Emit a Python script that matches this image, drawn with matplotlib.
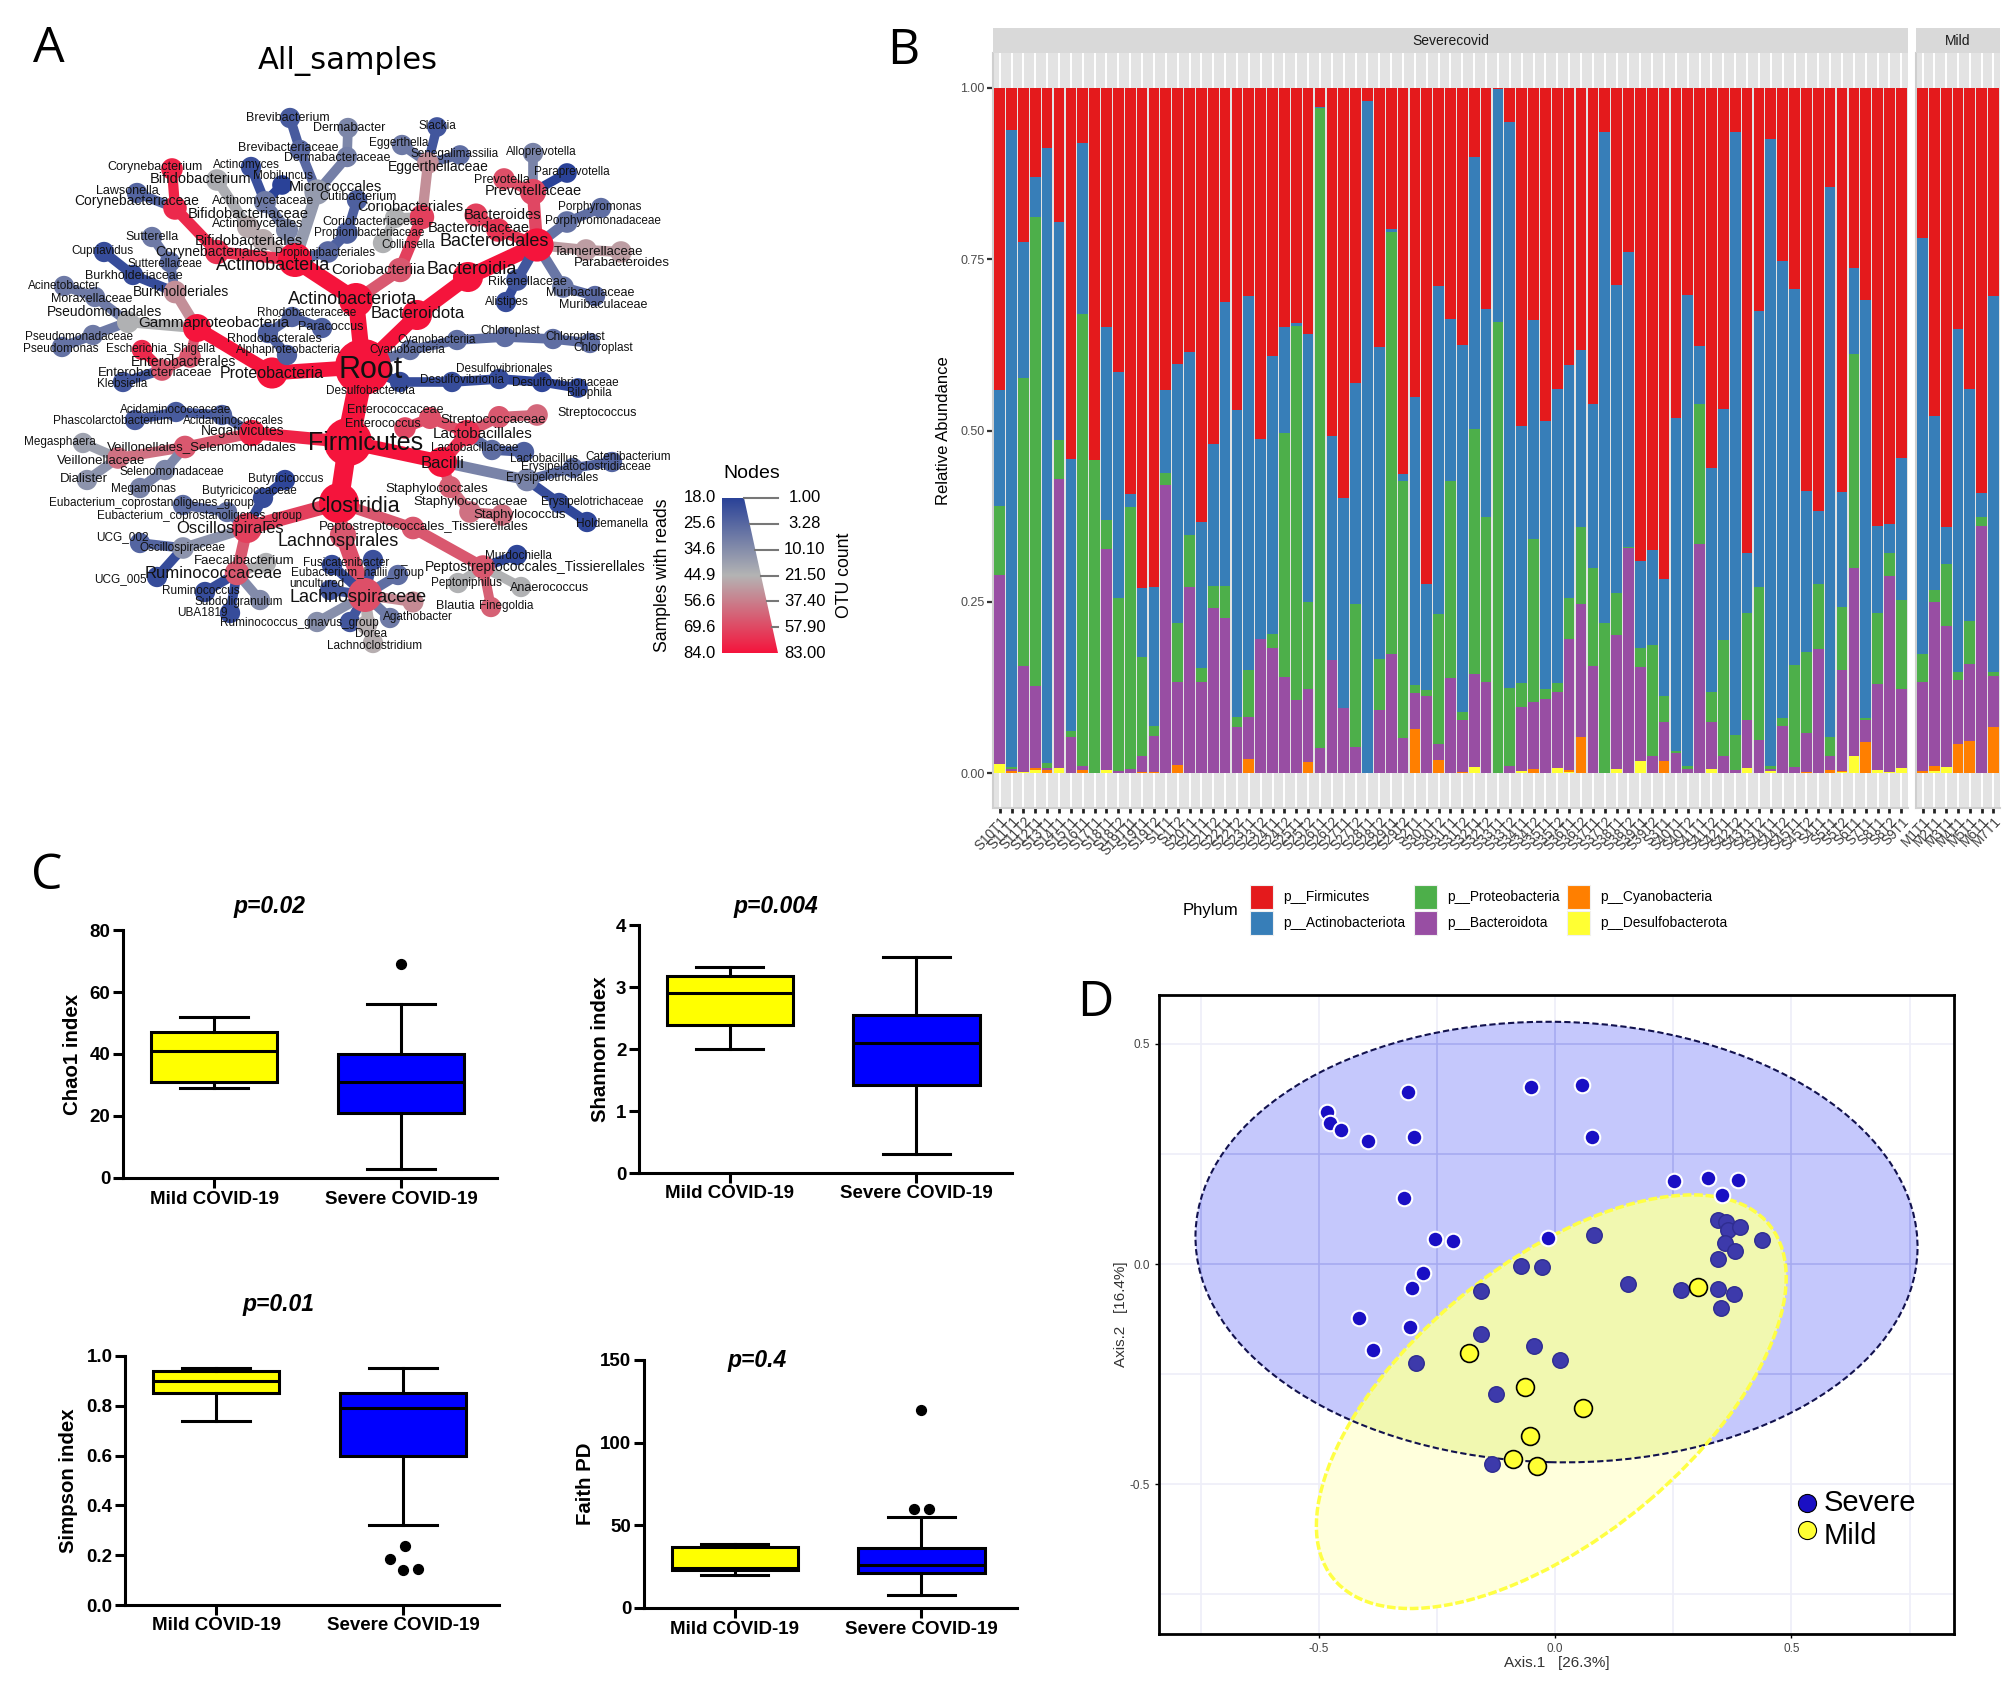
#!/usr/bin/env python3
## Imports
import numpy as np
import matplotlib
matplotlib.use('Agg')
import matplotlib.pyplot as plt
from matplotlib.colors import LinearSegmentedColormap
from matplotlib.collections import LineCollection
from matplotlib.patches import Circle, Rectangle, Polygon, Ellipse

plt.rcParams['font.family'] = ['Liberation Sans', 'DejaVu Sans']

W, H = 2008, 1703

## Panel A data: taxonomic tree, positions are the layout
tree_names = [
    'Root', 'Actinobacteriota', 'Actinobacteria', 'Coriobacteriia', 'Bifidobacteriales',
    'Bifidobacteriaceae', 'Bifidobacterium', 'Corynebacteriales', 'Corynebacteriaceae', 'Corynebacterium',
    'Lawsonella', 'Micrococcales', 'Brevibacteriaceae', 'Brevibacterium', 'Dermabacteraceae',
    'Dermabacter', 'Propionibacteriales', 'Propionibacteriaceae', 'Cutibacterium', 'Actinomycetales',
    'Actinomycetaceae', 'Actinomyces', 'Mobiluncus', 'Coriobacteriales', 'Coriobacteriaceae',
    'Collinsella', 'Eggerthellaceae', 'Eggerthella', 'Slackia', 'Senegalimassilia',
    'Bacteroidota', 'Bacteroidia', 'Bacteroidales', 'Bacteroidaceae', 'Bacteroides',
    'Prevotellaceae', 'Prevotella', 'Alloprevotella', 'Paraprevotella', 'Porphyromonadaceae',
    'Porphyromonas', 'Tannerellaceae', 'Parabacteroides', 'Rikenellaceae', 'Alistipes',
    'Muribaculaceae', 'Muribaculaceae', 'Cyanobacteria', 'Cyanobacteriia', 'Chloroplast',
    'Chloroplast', 'Chloroplast', 'Desulfobacterota', 'Desulfovibrionia', 'Desulfovibrionales',
    'Desulfovibrionaceae', 'Bilophila', 'Proteobacteria', 'Gammaproteobacteria', 'Alphaproteobacteria',
    'Rhodobacterales', 'Rhodobacteraceae', 'Paracoccus', 'Burkholderiales', 'Sutterellaceae',
    'Sutterella', 'Burkholderiaceae', 'Cupriavidus', 'Pseudomonadales', 'Moraxellaceae',
    'Acinetobacter', 'Pseudomonadaceae', 'Pseudomonas', 'Enterobacterales', 'Enterobacteriaceae',
    'Escherichia_Shigella', 'Klebsiella', 'Firmicutes', 'Negativicutes', 'Acidaminococcales',
    'Acidaminococcaceae', 'Phascolarctobacterium', 'Veillonellales_Selenomonadales', 'Veillonellaceae', 'Megasphaera',
    'Dialister', 'Selenomonadaceae', 'Megamonas', 'Clostridia', 'Oscillospirales',
    'Butyricicoccaceae', 'Butyricicoccus', 'Eubacterium_coprostanoligenes_group', 'Eubacterium_coprostanoligenes_group', 'Oscillospiraceae',
    'UCG_002', 'UCG_005', 'Ruminococcaceae', 'Faecalibacterium', 'Ruminococcus',
    'Subdoligranulum', 'UBA1819', 'Lachnospirales', 'Lachnospiraceae', 'Fusicatenibacter',
    'Eubacterium_hallii_group', '_', 'uncultured', 'Ruminococcus_gnavus_group', '',
    'Dorea', 'Lachnoclostridium', 'Agathobacter', 'Blautia', 'Peptostreptococcales_Tissierellales',
    'Peptostreptococcales_Tissierellales', 'Murdochiella', 'Peptoniphilus', 'Anaerococcus', 'Finegoldia',
    'Bacilli', 'Lactobacillales', 'Enterococcaceae', 'Enterococcus', 'Streptococcaceae',
    'Streptococcus', 'Lactobacillaceae', 'Lactobacillus', 'Erysipelotrichales', 'Erysipelatoclostridiaceae',
    'Catenibacterium', 'Erysipelotrichaceae', 'Holdemanella', 'Staphylococcales', 'Staphylococcaceae',
    'Staphylococcus']
tree_parent = [
    -1, 0, 1, 1, 2, 4, 5, 2, 7, 8,
    8, 2, 11, 12, 11, 14, 2, 16, 17, 2,
    19, 20, 20, 3, 23, 24, 23, 26, 26, 26,
    0, 30, 31, 32, 33, 32, 35, 35, 35, 32,
    39, 32, 41, 32, 43, 32, 45, 0, 47, 48,
    49, 50, 0, 52, 53, 54, 55, 0, 57, 57,
    59, 60, 61, 58, 63, 64, 63, 66, 58, 68,
    69, 68, 71, 58, 73, 74, 74, 0, 77, 78,
    79, 80, 78, 82, 83, 83, 82, 86, 77, 88,
    89, 90, 89, 92, 89, 94, 94, 89, 97, 97,
    97, 97, 88, 102, 103, 103, 103, 103, 103, 103,
    103, 103, 103, 103, 88, 114, 115, 115, 115, 115,
    77, 120, 121, 122, 121, 124, 121, 126, 120, 128,
    129, 128, 131, 120, 133, 134]
tree_x = [
    363, 356, 295, 400, 263, 248, 217, 217, 175, 172,
    137, 317, 300, 290, 347, 348, 328, 347, 357, 287,
    265, 251, 282, 422, 395, 383, 428, 402, 437, 460,
    417, 468, 537, 498, 476, 533, 504, 533, 567, 567,
    601, 586, 621, 517, 506, 563, 595, 410, 457, 505,
    553, 590, 400, 452, 499, 542, 578, 272, 197, 287,
    268, 292, 322, 175, 170, 152, 133, 104, 128, 95,
    64, 93, 62, 190, 162, 142, 123, 348, 252, 222,
    176, 135, 185, 118, 83, 87, 165, 140, 339, 247,
    263, 285, 227, 183, 183, 140, 157, 237, 266, 205,
    260, 230, 343, 365, 332, 373, 398, 330, 350, 317,
    367, 373, 390, 413, 413, 483, 517, 458, 521, 491,
    442, 467, 430, 405, 499, 537, 492, 524, 527, 573,
    612, 559, 587, 450, 470, 502]
tree_y = [
    367, 300, 260, 270, 240, 227, 180, 252, 208, 169,
    193, 192, 150, 118, 157, 128, 252, 233, 200, 230,
    202, 167, 185, 217, 218, 243, 163, 145, 127, 155,
    315, 277, 245, 230, 215, 192, 179, 153, 173, 222,
    208, 250, 252, 280, 302, 287, 296, 350, 340, 337,
    339, 343, 382, 382, 379, 382, 388, 373, 328, 355,
    333, 317, 328, 292, 262, 237, 275, 252, 322, 297,
    286, 335, 347, 357, 370, 350, 382, 442, 433, 415,
    412, 420, 447, 458, 443, 480, 470, 488, 503, 528,
    498, 480, 512, 505, 548, 543, 577, 573, 563, 592,
    600, 613, 535, 595, 565, 560, 575, 590, 622, 622,
    625, 643, 618, 602, 528, 567, 555, 583, 587, 607,
    462, 433, 418, 428, 417, 415, 450, 452, 480, 468,
    462, 503, 522, 487, 512, 515]
tree_samples = [
    84, 84, 84, 66, 47, 47, 43, 76, 78, 80,
    25, 38, 26, 23, 31, 33, 26, 24, 24, 33,
    30, 21, 18, 72, 44, 44, 53, 30, 22, 27,
    84, 84, 84, 75, 72, 70, 68, 32, 18, 28,
    27, 50, 50, 22, 20, 29, 26, 28, 27, 27,
    27, 27, 20, 20, 20, 19, 19, 84, 84, 24,
    24, 25, 24, 53, 27, 30, 20, 20, 44, 30,
    30, 30, 28, 66, 66, 78, 22, 84, 80, 24,
    23, 23, 66, 60, 40, 36, 33, 32, 84, 72,
    20, 19, 28, 27, 36, 25, 20, 66, 44, 20,
    34, 20, 66, 68, 20, 21, 27, 22, 22, 35,
    46, 46, 30, 54, 66, 66, 19, 44, 44, 64,
    84, 76, 68, 70, 66, 62, 27, 24, 32, 27,
    25, 20, 19, 64, 60, 60]
tree_otu = [
    83, 21.5, 21.5, 6, 3.3, 3.3, 3, 6, 5, 3,
    2, 7, 2, 2, 2, 2, 3, 3, 2, 3.3,
    3.3, 2, 1.5, 6, 2, 2, 3, 2, 1.5, 1.5,
    14, 14, 20, 5, 4.5, 8, 3, 2, 1.5, 3,
    2, 3, 3, 3, 2, 3, 2, 2, 2, 2,
    2, 2, 2, 2, 2, 2, 1.5, 16, 10, 2,
    2, 2, 2, 4, 2, 2, 2, 2, 3.3, 2,
    2, 2, 2, 3, 3, 2, 2, 57.9, 8, 2,
    2, 2, 4, 3, 2, 2, 2, 2, 37.4, 14,
    2, 2, 2, 2, 3, 2, 2, 6, 2, 2,
    2, 2, 8, 21.5, 2, 2, 2, 2, 2, 2,
    2, 2, 2, 2.5, 4, 5, 2, 2, 2, 2,
    14, 8, 3.3, 3, 3.3, 3, 2, 2, 4, 2,
    2, 2, 2, 3.3, 3, 3]
label_x = [
    371, 353, 273, 378, 249, 248, 201, 211, 137, 155,
    127, 335, 288, 288, 337, 349, 325, 369, 358, 258,
    263, 246, 283, 410, 373, 408, 438, 399, 437, 455,
    418, 472, 494, 479, 503, 533, 502, 541, 572, 603,
    600, 599, 622, 527, 507, 590, 603, 407, 437, 510,
    575, 603, 370, 462, 504, 565, 589, 272, 214, 289,
    274, 307, 331, 181, 165, 152, 134, 102, 105, 92,
    64, 79, 61, 184, 155, 161, 122, 366, 243, 233,
    176, 113, 202, 101, 60, 84, 172, 143, 356, 230,
    249, 286, 199, 151, 183, 122, 120, 214, 244, 201,
    239, 202, 338, 358, 346, 357, 403, 317, 299, 317,
    371, 375, 418, 455, 424, 535, 518, 466, 550, 506,
    443, 483, 395, 383, 493, 597, 475, 544, 552, 586,
    628, 592, 612, 437, 471, 520]
label_y = [
    370, 300, 266, 270, 241, 214, 179, 252, 201, 167,
    191, 187, 148, 118, 158, 128, 253, 233, 197, 224,
    201, 165, 176, 207, 222, 245, 167, 143, 126, 154,
    314, 269, 242, 228, 215, 191, 180, 152, 172, 221,
    207, 252, 263, 282, 302, 293, 305, 350, 340, 331,
    337, 348, 391, 380, 369, 383, 393, 373, 323, 350,
    339, 313, 327, 292, 264, 237, 276, 251, 312, 299,
    286, 337, 349, 362, 373, 349, 384, 443, 431, 421,
    410, 421, 447, 461, 442, 479, 472, 489, 507, 528,
    491, 479, 516, 503, 548, 537, 579, 573, 561, 591,
    602, 613, 542, 597, 563, 573, 560, 584, 623, 622,
    634, 646, 617, 606, 527, 567, 556, 583, 588, 606,
    463, 434, 410, 424, 420, 413, 448, 459, 478, 467,
    457, 502, 524, 489, 502, 515]
label_size = [
    22, 13, 13, 11, 10.5, 10.5, 10.5, 10, 10, 9,
    9, 10.5, 9, 9, 9, 9, 8.5, 8.5, 9, 9,
    9, 8.5, 8.5, 10.5, 9, 8.5, 10, 8.5, 8.5, 8.5,
    12, 13, 13, 10.5, 10.5, 10.5, 9, 8.5, 8.5, 8.5,
    8.5, 9.5, 9.5, 9, 8.5, 9, 9, 8.5, 8.5, 8.5,
    8.5, 8.5, 8.5, 8.5, 8.5, 8.5, 8.5, 11.5, 11, 8.5,
    9, 8.5, 9, 10, 8.5, 9, 9, 8.5, 10, 9,
    8.5, 8.5, 8.5, 10, 9.5, 8.5, 8.5, 18, 10, 8.5,
    8.5, 8.5, 9.5, 9.5, 8.5, 9.5, 8.5, 8.5, 15.5, 12,
    8.5, 8.5, 8.5, 8.5, 8.5, 8.5, 8.5, 12, 9.5, 8.5,
    8.5, 8.5, 13, 13, 8.5, 8.5, 8.5, 8.5, 8.5, 8.5,
    8.5, 8.5, 8.5, 9, 9.5, 10, 8.5, 8.5, 9, 8.5,
    12, 11, 9, 9, 9.5, 9, 8.5, 8.5, 8.5, 8.5,
    8.5, 8.5, 8.5, 9.5, 9.5, 9.5]

legend_samples = [18.0, 25.6, 34.6, 44.9, 56.6, 69.6, 84.0]
legend_otu = [1.00, 3.28, 10.10, 21.50, 37.40, 57.90, 83.00]

## Panel B data: cumulative lower edge of each stacked segment
sample_labels = [
    'S10T1', 'S11T1', 'S11T2', 'S12T1', 'S13T1', 'S14T1', 'S15T1', 'S16T1', 'S17T1', 'S18T1',
    'S18T2', 'S19T11', 'S19T1', 'S19T2', 'S1T1', 'S1T2', 'S20T1', 'S21T1', 'S21T2', 'S22T1',
    'S22T2', 'S23T1', 'S23T2', 'S24T1', 'S24T2', 'S25T1', 'S25T2', 'S26T1', 'S26T2', 'S27T1',
    'S27T2', 'S28T1', 'S28T2', 'S29T1', 'S29T2', 'S2T1', 'S30T1', 'S30T2', 'S31T1', 'S31T2',
    'S32T1', 'S32T2', 'S33T1', 'S33T2', 'S34T1', 'S34T2', 'S35T1', 'S35T2', 'S36T1', 'S36T2',
    'S37T1', 'S37T2', 'S38T1', 'S38T2', 'S39T1', 'S39T2', 'S3T1', 'S40T1', 'S40T2', 'S41T1',
    'S41T2', 'S42T1', 'S42T2', 'S43T1', 'S43T2', 'S44T1', 'S44T2', 'S45T1', 'S45T2', 'S4T1',
    'S5T1', 'S5T2', 'S6T1', 'S7T1', 'S8T1', 'S8T2', 'S9T1']
mild_labels = ['M1T1', 'M2T1', 'M3T1', 'M4T1', 'M5T1', 'M6T1', 'M7T1']

firmicutes_low = [
    .559, .939, .775, .870, .912, .804, .458, .920, .457, .651,
    .585, .407, .270, .271, .559, .597, .615, .366, .480, .688,
    .530, .696, .488, .609, .651, .657, .641, .972, .492, .401,
    .569, .981, .622, .794, .436, .549, .276, .711, .663, .625,
    .899, .677, .999, .951, .506, .662, .514, .560, .595, .617,
    .539, .936, .713, .760, .310, .326, .283, .518, .698, .623,
    .445, .532, .936, .321, .674, .925, .748, .706, .411, .382,
    .856, .410, .737, .690, .360, .364, .460]
actino_low = [
    .390, .009, .577, .812, .015, .486, .061, .670, .457, .369,
    .255, .388, .169, .069, .438, .219, .347, .153, .273, .273,
    .082, .150, .196, .203, .496, .652, .250, .970, .165, .095,
    .247, .000, .166, .790, .426, .128, .121, .232, .426, .089,
    .502, .374, .658, .124, .131, .341, .123, .132, .255, .359,
    .299, .219, .263, .330, .183, .187, .112, .032, .010, .539,
    .118, .194, .056, .234, .271, .010, .080, .157, .176, .276,
    .052, .242, .611, .081, .234, .321, .253]
proteo_low = [
    .289, .006, .156, .127, .008, .429, .052, .010, .000, .327,
    .003, .006, .025, .054, .420, .133, .272, .133, .241, .226,
    .067, .082, .196, .182, .140, .107, .123, .036, .165, .095,
    .038, .000, .092, .174, .051, .117, .112, .042, .139, .078,
    .145, .133, .000, .010, .096, .103, .108, .118, .195, .247,
    .156, .000, .202, .328, .155, .025, .074, .029, .006, .335,
    .075, .025, .004, .077, .048, .006, .069, .009, .058, .181,
    .025, .151, .300, .078, .130, .288, .123]
bactero_low = [
    .013, .003, .002, .008, .005, .007, .000, .005, .000, .004,
    .000, .000, .002, .002, .000, .012, .000, .000, .000, .000,
    .000, .020, .000, .000, .000, .000, .016, .000, .000, .000,
    .000, .000, .000, .000, .000, .064, .000, .019, .000, .002,
    .009, .000, .000, .000, .003, .006, .000, .007, .005, .053,
    .000, .000, .006, .000, .017, .000, .018, .000, .000, .000,
    .006, .000, .000, .007, .000, .003, .000, .000, .001, .000,
    .005, .003, .025, .046, .005, .002, .008]
cyano_low = [
    .013, .000, .001, .005, .000, .007, .000, .000, .000, .004,
    .000, .000, .000, .000, .000, .000, .000, .000, .000, .000,
    .000, .000, .000, .000, .000, .000, .000, .000, .000, .000,
    .000, .000, .000, .000, .000, .000, .000, .000, .000, .000,
    .009, .000, .000, .000, .003, .000, .000, .007, .002, .000,
    .000, .000, .006, .000, .017, .000, .000, .000, .000, .000,
    .006, .000, .000, .007, .000, .003, .000, .000, .000, .000,
    .000, .001, .025, .000, .005, .002, .008]

mild_firmicutes_low = [.781, .521, .359, .648, .560, .409, .696]
mild_actino_low = [.174, .267, .305, .147, .222, .374, .148]
mild_proteo_low = [.133, .250, .214, .136, .159, .361, .141]
mild_bactero_low = [.003, .011, .009, .042, .047, .000, .067]
mild_cyano_low = [.000, .003, .009, .000, .000, .000, .000]

phylum_names = ['p__Firmicutes', 'p__Actinobacteriota', 'p__Proteobacteria',
                'p__Bacteroidota', 'p__Cyanobacteria', 'p__Desulfobacterota']
phylum_colors = ['#e41a1c', '#377eb8', '#4daf4a', '#984ea3', '#ff7f00', '#ffff33']

## Panel C data: (low whisker, q1, median, q3, high whisker)
chao_mild = [29, 31, 41, 47, 52]
chao_severe = [3, 21, 31, 40, 56]
chao_fliers = [69]
chao_shift = [0.0]
shannon_mild = [2.0, 2.38, 2.9, 3.17, 3.33]
shannon_severe = [0.3, 1.42, 2.1, 2.55, 3.48]
simpson_mild = [0.74, 0.85, 0.90, 0.94, 0.95]
simpson_severe = [0.32, 0.60, 0.79, 0.85, 0.95]
simpson_fliers = [0.237, 0.186, 0.139, 0.144]
simpson_shift = [0.01, -0.07, 0.0, 0.08]
faith_mild = [20, 23, 24, 37, 39]
faith_severe = [8, 21, 26, 36, 55]
faith_fliers = [120, 60, 60]
faith_shift = [0.0, -0.04, 0.04]

## Panel D data
severe_x = [-.312, -.050, .058, -.482, -.476, -.452, -.396, -.299, .079, .251, .324,
            .386, .353, -.320, -.254, -.217, -.014, -.280, -.303, -.415, -.307, -.386]
severe_y = [.391, .402, .406, .346, .321, .305, .280, .288, .288, .189, .195,
            .191, .156, .149, .057, .052, .060, -.021, -.054, -.123, -.143, -.195]
overlap_x = [.083, .345, .361, .366, .392, .438, .359, .381, .345, -.073, -.028, -.156,
             .155, .266, .344, .379, .350, -.157, -.045, .011, -.294, -.124, -.134]
overlap_y = [.067, .101, .096, .078, .084, .054, .048, .029, .011, -.004, -.007, -.061,
             -.046, -.060, -.056, -.068, -.099, -.159, -.187, -.217, -.225, -.294, -.455]
mild_x = [.303, -.183, -.063, .060, -.053, -.089, -.038]
mild_y = [-.051, -.203, -.280, -.326, -.391, -.443, -.459]


## Functions
def px_axes(fig, left, top, right, bottom):
    return fig.add_axes([left / W, 1 - bottom / H, (right - left) / W, (bottom - top) / H])


def draw_tree(ov):
    cmap = LinearSegmentedColormap.from_list('nodes', ['#2a4298', '#b4b4b4', '#f5143c'])
    pos = np.interp(tree_samples, legend_samples, np.linspace(0, 1, 7))
    radius = np.interp(tree_otu, legend_otu, [9.5, 11, 14, 17, 20, 24, 28])
    segs, cols, lws = [], [], []
    for i, p in enumerate(tree_parent):
        if p >= 0:
            segs.append([(tree_x[p], tree_y[p]), (tree_x[i], tree_y[i])])
            cols.append(cmap(pos[i]))
            lws.append(radius[i] * 0.95 / 1.389)
    ov.add_collection(LineCollection(segs, colors=cols, linewidths=lws, capstyle='round', zorder=2))
    for i in range(len(tree_x)):
        ov.add_patch(Circle((tree_x[i], tree_y[i]), radius[i], fc=cmap(pos[i]), ec='none', zorder=3))
    for i, name in enumerate(tree_names):
        ov.text(label_x[i], label_y[i], name, fontsize=label_size[i], ha='center', va='center',
                color='#111111', zorder=4)

    # Nodes legend
    grad = np.linspace(0, 1, 256).reshape(-1, 1)
    im = ov.imshow(grad, cmap=cmap, extent=(722, 778, 653, 498), aspect='auto', zorder=2)
    im.set_clip_path(Polygon([(722, 498), (744, 498), (778, 653), (722, 653)], transform=ov.transData))
    ov.set_xlim(0, W)
    ov.set_ylim(H, 0)
    ys = np.linspace(498, 653, 7)
    for k in range(7):
        edge = 744 + (778 - 744) * k / 6
        ov.plot([edge, 778], [ys[k], ys[k]], color='#777777', lw=1.5, zorder=3)
        ov.text(716, ys[k], '%.1f' % legend_samples[k], ha='right', va='center', fontsize=12)
        ov.text(805, ys[k], '%.2f' % legend_otu[k], ha='center', va='center', fontsize=12)
    ov.text(752, 473, 'Nodes', ha='center', va='center', fontsize=14)
    ov.text(663, 575, 'Samples with reads', rotation=90, ha='center', va='center', fontsize=12.7)
    ov.text(845, 575, 'OTU count', rotation=90, ha='center', va='center', fontsize=12.7)
    ov.text(348, 61, 'All_samples', ha='center', va='center', fontsize=22, family='DejaVu Sans')


def stacked(ax, labels, lows):
    x = np.arange(len(labels))
    edges = [np.zeros(len(labels))] + [np.array(v) for v in lows[::-1]] + [np.ones(len(labels))]
    for j in range(6):
        ax.bar(x, edges[j + 1] - edges[j], bottom=edges[j], width=0.9,
               color=phylum_colors[5 - j], linewidth=0, zorder=3)
    ax.set_xlim(-0.565, len(labels) - 0.435)
    ax.set_ylim(-0.051, 1.051)
    ax.set_facecolor('#e3e3e3')
    ax.set_axisbelow(True)
    ax.grid(axis='x', color='white', lw=1.4)
    for s in ('top', 'right'):
        ax.spines[s].set_visible(False)
    for s in ('left', 'bottom'):
        ax.spines[s].set_color('#cfcfcf')
        ax.spines[s].set_linewidth(1.5)
    ax.set_xticks(x)
    ax.set_xticklabels(labels)
    ax.tick_params(axis='x', length=3.5, width=2.0, color='#222222', labelcolor='#404040', labelsize=9.8, pad=1)
    for lab in ax.get_xticklabels():
        lab.set(rotation=47, ha='right', va='top', rotation_mode='anchor')


def boxes(fig, rect, mild, severe, ylim, yticks, ylabel, label_px, fliers, shift):
    ax = px_axes(fig, *rect)
    stats = []
    for lbl, v in (('Mild COVID-19', mild), ('Severe COVID-19', severe)):
        stats.append({'label': lbl, 'whislo': v[0], 'q1': v[1], 'med': v[2], 'q3': v[3], 'whishi': v[4], 'fliers': []})
    bp = ax.bxp(stats, positions=[1, 2], widths=0.678, patch_artist=True, showfliers=False, capwidths=0.36,
                boxprops=dict(lw=2.2, edgecolor='black'), whiskerprops=dict(lw=2.2, color='black'),
                capprops=dict(lw=2.2, color='black'), medianprops=dict(lw=2.2, color='black'))
    bp['boxes'][0].set_facecolor('#ffff00')
    bp['boxes'][1].set_facecolor('#0000ff')
    if fliers:
        ax.scatter(2 + np.array(shift), fliers, s=50, color='black', zorder=5, clip_on=False)
    ax.set_xlim(0.513, 2.513)
    ax.set_ylim(*ylim)
    ax.set_yticks(yticks)
    for s in ('top', 'right'):
        ax.spines[s].set_visible(False)
    for s in ('left', 'bottom'):
        ax.spines[s].set_linewidth(2.2)
    ax.tick_params(length=7, width=2.2, labelsize=13.5, pad=2)
    for lab in ax.get_xticklabels() + ax.get_yticklabels():
        lab.set_fontweight('bold')
    ax.set_ylabel(ylabel, fontsize=14.7, fontweight='bold', va='center')
    ax.yaxis.set_label_coords((label_px - rect[0]) / (rect[2] - rect[0]), 0.5)
    ax.patch.set_alpha(0)
    return ax


def ordination(fig):
    ax = px_axes(fig, 1159, 995, 1954, 1634)
    ax.set_xlim(-0.838, 0.844)
    ax.set_ylim(-0.84, 0.611)
    steps_x = [-.75, -.5, -.25, 0, .25, .5, .75]
    steps_y = [-.75, -.5, -.25, 0, .25, .5]
    for v in steps_x:
        ax.axvline(v, color='#eeeef8', lw=1.2, zorder=1)
    for v in steps_y:
        ax.axhline(v, color='#eeeef8', lw=1.2, zorder=1)
    blue = Ellipse((0.003, 0.05), 1.528, 1.0, angle=-1.5, fc='#c5c8fc', ec='none', zorder=2)
    ax.add_patch(blue)
    for v in steps_x:
        ax.axvline(v, color='#a6aaf0', lw=1.2, zorder=2.5).set_clip_path(blue)
    for v in steps_y:
        ax.axhline(v, color='#a6aaf0', lw=1.2, zorder=2.5).set_clip_path(blue)
    ax.add_patch(Ellipse((-0.008, -0.3125), 1.224, 0.61, angle=42.3, fc='#ffffdc', ec='none', zorder=3))
    inner = Ellipse((-0.008, -0.3125), 1.224, 0.61, angle=42.3, fc='#f1f8b0', ec='none', zorder=3.2)
    ax.add_patch(inner)
    inner.set_clip_path(blue)
    ax.add_patch(Ellipse((0.003, 0.05), 1.528, 1.0, angle=-1.5, fc='none', ec='#12124e',
                         ls=(0, (3, 1.5)), lw=1.5, zorder=3.4))
    ax.add_patch(Ellipse((-0.008, -0.3125), 1.224, 0.61, angle=42.3, fc='none', ec='#ffff44',
                         ls=(0, (2.5, 0.8)), lw=2.5, zorder=3.5))
    ax.scatter(severe_x, severe_y, s=125, c='#1a0fc4', edgecolors='white', linewidths=1.5, zorder=4)
    ax.scatter(overlap_x, overlap_y, s=125, c='#3d3aab', edgecolors='#2f2d90', linewidths=1, zorder=4)
    ax.scatter(mild_x, mild_y, s=165, c='#ffff33', edgecolors='black', linewidths=1.2, zorder=5)
    ax.set_xticks([-0.5, 0, 0.5])
    ax.set_yticks([-0.5, 0, 0.5])
    ax.set_xticklabels(['-0.5', '0.0', '0.5'])
    ax.set_yticklabels(['-0.5', '0.0', '0.5'])
    ax.tick_params(length=3, width=1, labelsize=8.5, labelcolor='#444444')
    for s in ax.spines.values():
        s.set_linewidth(2)
        s.set_zorder(6)
    ax.set_xlabel('Axis.1   [26.3%]', fontsize=11, color='#333333', labelpad=1)
    ax.set_ylabel('Axis.2   [16.4%]', fontsize=11, color='#333333', labelpad=1)


## Operations
fig = plt.figure(figsize=(W / 100, H / 100), dpi=100, facecolor='white')

ax_sev = px_axes(fig, 993, 53, 1908, 808)
stacked(ax_sev, sample_labels, [firmicutes_low, actino_low, proteo_low, bactero_low, cyano_low])
ax_sev.set_yticks([0, .25, .5, .75, 1])
ax_sev.set_yticklabels(['0.00', '0.25', '0.50', '0.75', '1.00'])
ax_sev.tick_params(axis='y', length=4, width=1.6, color='#333333', labelcolor='#4d4d4d', labelsize=9, pad=2)
ax_sev.set_ylabel('Relative Abundance', fontsize=12, labelpad=7)

ax_mild = px_axes(fig, 1916, 53, 2000, 808)
stacked(ax_mild, mild_labels, [mild_firmicutes_low, mild_actino_low, mild_proteo_low, mild_bactero_low, mild_cyano_low])
ax_mild.tick_params(axis='y', left=False, labelleft=False)

boxes(fig, (123, 930, 497, 1178), chao_mild, chao_severe, (0, 80), [0, 20, 40, 60, 80], 'Chao1 index', 73, chao_fliers, chao_shift)
boxes(fig, (639, 925, 1012, 1173), shannon_mild, shannon_severe, (0, 4), [0, 1, 2, 3, 4], 'Shannon index', 601, [], [])
boxes(fig, (125, 1356, 499, 1605), simpson_mild, simpson_severe, (0, 1), [0, .2, .4, .6, .8, 1], 'Simpson index', 69, simpson_fliers, simpson_shift)
boxes(fig, (644, 1360, 1017, 1608), faith_mild, faith_severe, (0, 150), [0, 50, 100, 150], 'Faith PD', 586, faith_fliers, faith_shift)

ordination(fig)

# Overlay in pixel coordinates for the tree, strips, legends and letters
ov = fig.add_axes([0, 0, 1, 1], zorder=10)
ov.set_xlim(0, W)
ov.set_ylim(H, 0)
ov.axis('off')
ov.patch.set_alpha(0)
draw_tree(ov)

ov.add_patch(Rectangle((993, 28), 915, 25, fc='#d9d9d9', ec='none'))
ov.add_patch(Rectangle((1916, 28), 84, 25, fc='#d9d9d9', ec='none'))
ov.text(1451, 41, 'Severecovid', ha='center', va='center', fontsize=10, color='#1a1a1a')
ov.text(1958, 41, 'Mild', ha='center', va='center', fontsize=10, color='#1a1a1a')

ov.text(1211, 911, 'Phylum', ha='center', va='center', fontsize=12)
key_x = [1250, 1250, 1414, 1414, 1567, 1567]
key_y = [885, 911, 885, 911, 885, 911]
for k in range(6):
    ov.add_patch(Rectangle((key_x[k], key_y[k]), 23, 24, fc=phylum_colors[k], ec='#f0f0f0', lw=0.8))
    ov.text(key_x[k] + 33, key_y[k] + 12, phylum_names[k], va='center', fontsize=9.9)

ov.text(270, 907, 'p=0.02', ha='center', va='center', fontsize=16.5, fontweight='bold', style='italic')
ov.text(776, 907, 'p=0.004', ha='center', va='center', fontsize=16.5, fontweight='bold', style='italic')
ov.text(279, 1304, 'p=0.01', ha='center', va='center', fontsize=16.5, fontweight='bold', style='italic')
ov.text(757, 1360, 'p=0.4', ha='center', va='center', fontsize=16.5, fontweight='bold', style='italic')

ov.scatter([1807], [1503], s=170, c='#1a0fc4', edgecolors='black', linewidths=0.8, zorder=6)
ov.scatter([1807], [1530], s=170, c='#ffff33', edgecolors='black', linewidths=0.8, zorder=6)
ov.text(1824, 1503, 'Severe', va='center', fontsize=21)
ov.text(1824, 1536, 'Mild', va='center', fontsize=21)

for letter, lx, ly in (('A', 49, 49), ('B', 903, 51), ('C', 47, 876), ('D', 1095, 1003)):
    ov.text(lx, ly, letter, ha='center', va='center', fontsize=36, family='Open Sans')

fig.savefig('out.png', dpi=100)
